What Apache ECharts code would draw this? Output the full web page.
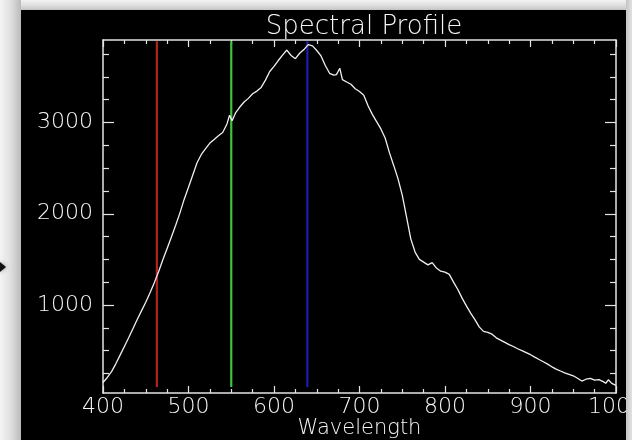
<!DOCTYPE html>
<html><head><meta charset="utf-8">
<script src="https://cdn.jsdelivr.net/npm/echarts@6/dist/echarts.min.js"></script>
<style>html,body{margin:0;padding:0;background:#d4d4d4;} #c{width:632px;height:440px;}</style>
</head><body><div id="c"></div>
<script>
// ---- data ----
const wavelengths = [400,405,410,415,420,425,430,435,440,445,450,455,460,465,470,475,480,485,490,495,
  500,505,510,515,520,525,530,535,540,545,548,551,555,560,565,570,575,580,585,590,595,
  600,605,610,615,620,625,630,635,640,645,650,655,660,665,670,673,677,680,685,690,695,
  700,705,710,715,720,725,730,735,740,745,750,755,760,765,770,775,780,785,790,795,
  800,805,810,815,820,825,830,835,840,845,850,855,860,865,870,875,880,885,890,895,
  900,905,910,915,920,925,930,935,940,945,950,955,960,965,970,975,980,985,988,991,995,1000];
const intensity = [150,205,270,355,450,545,640,740,840,935,1030,1135,1245,1365,1495,1620,1745,1875,2010,2160,
  2290,2425,2560,2650,2715,2775,2815,2855,2890,2985,3080,3020,3105,3170,3225,3265,3315,3345,3385,3465,3560,
  3615,3680,3740,3795,3735,3700,3760,3800,3855,3840,3790,3730,3625,3540,3520,3525,3595,3470,3445,3420,3370,
  3340,3300,3185,3090,3010,2930,2830,2670,2530,2385,2205,1965,1725,1580,1500,1470,1440,1465,1405,1370,
  1360,1335,1250,1170,1075,990,910,840,760,710,700,680,640,615,590,565,545,520,500,478,
  455,428,402,378,352,322,296,276,256,240,224,196,166,186,196,176,182,160,142,180,140,118];
const markerWavelengths = [463, 550, 639];
const markerRange = [100, 3890];
const xRange = [400, 1000];
const xInterval = 100;
const yRange = [35, 3905];
const yMajorTicks = [1000, 2000, 3000];
const yMinorTicks = [250, 500, 750, 1250, 1500, 1750, 2250, 2500, 2750, 3250, 3500, 3750];
const titleText = 'Spectral Profile';
const xName = 'Wavelength';

// ---- styles ----
const markerColors = ['#b42222', '#3cc43c', '#1e1eaa'];
const fg = '#e4e4e4';
const txt = '#f6f6f6';
const font = 'DejaVu Sans';
const fw = 200;
const plain = v => String(v);
const axisLine = {show: true, lineStyle: {color: fg, width: 1.5}};

const chart = echarts.init(document.getElementById('c'), null, {renderer: 'canvas'});

const xBase = {
  type: 'value', min: xRange[0], max: xRange[1], interval: xInterval,
  axisLine: axisLine, splitLine: {show: false},
  axisTick: {show: true, inside: true, length: 7, lineStyle: {color: fg, width: 1.2}},
  minorTick: {show: true, splitNumber: 4, length: 4, lineStyle: {color: fg, width: 1.2}}
};
const yBase = {
  type: 'value', min: yRange[0], max: yRange[1],
  axisLine: axisLine, splitLine: {show: false}
};

const series = markerWavelengths.map((w, i) => ({
  type: 'line', silent: true, animation: false, showSymbol: false, z: 2,
  xAxisIndex: 0, yAxisIndex: 0,
  data: [[w, markerRange[0]], [w, markerRange[1]]],
  lineStyle: {color: markerColors[i], width: 2.2}
}));
series.push({
  type: 'line', silent: true, animation: false, showSymbol: false, z: 5,
  xAxisIndex: 0, yAxisIndex: 0,
  data: wavelengths.map((w, i) => [w, intensity[i]]),
  lineStyle: {color: '#f0f0f0', width: 1.3}
});

chart.setOption({
  backgroundColor: '#000',
  animation: false,
  title: {
    text: titleText, left: 359, top: 9, textAlign: 'center',
    textStyle: {color: txt, fontFamily: font, fontSize: 26, fontWeight: fw}
  },
  grid: {left: 103, right: 16, top: 40, bottom: 47, containLabel: false, outerBoundsMode: 'none'},
  xAxis: [
    Object.assign({}, xBase, {
      position: 'bottom',
      axisLabel: {color: txt, fontFamily: font, fontSize: 22, fontWeight: fw, margin: 3, formatter: plain, hideOverlap: false},
      name: xName, nameLocation: 'middle', nameGap: 25, nameMoveOverlap: false,
      nameTextStyle: {color: txt, fontFamily: font, fontSize: 21, fontWeight: fw, verticalAlign: 'top'}
    }),
    Object.assign({}, xBase, {position: 'top', axisLabel: {show: false}})
  ],
  yAxis: [
    Object.assign({}, yBase, {
      position: 'left',
      axisTick: {show: true, inside: true, length: 11, customValues: yMajorTicks, lineStyle: {color: fg, width: 1.2}},
      axisLabel: {show: true, customValues: yMajorTicks, color: txt, fontFamily: font, fontSize: 22, fontWeight: fw, margin: 10, formatter: plain}
    }),
    Object.assign({}, yBase, {
      position: 'left', axisLine: {show: false},
      axisTick: {show: true, inside: true, length: 6, customValues: yMinorTicks, lineStyle: {color: fg, width: 1.2}},
      axisLabel: {show: false}
    }),
    Object.assign({}, yBase, {
      position: 'right',
      axisTick: {show: true, inside: true, length: 11, customValues: yMajorTicks, lineStyle: {color: fg, width: 1.2}},
      axisLabel: {show: false}
    }),
    Object.assign({}, yBase, {
      position: 'right', axisLine: {show: false},
      axisTick: {show: true, inside: true, length: 6, customValues: yMinorTicks, lineStyle: {color: fg, width: 1.2}},
      axisLabel: {show: false}
    })
  ],
  graphic: [
    {type: 'rect', silent: true, z: 100, shape: {x: 0, y: 0, width: 632, height: 10},
      style: {fill: new echarts.graphic.LinearGradient(0, 0, 0, 1, [
        {offset: 0, color: '#f2f2f2'}, {offset: 0.5, color: '#e0e0e0'}, {offset: 1, color: '#c4c4c4'}])}},
    {type: 'rect', silent: true, z: 100, shape: {x: 0, y: 0, width: 21, height: 440},
      style: {fill: new echarts.graphic.LinearGradient(0, 0, 1, 0, [
        {offset: 0, color: '#f4f4f4'}, {offset: 0.45, color: '#e2e2e2'}, {offset: 0.7, color: '#d2d2d2'}, {offset: 1, color: '#bababa'}])}},
    {type: 'rect', silent: true, z: 100, shape: {x: 626, y: 0, width: 6, height: 440},
      style: {fill: new echarts.graphic.LinearGradient(0, 0, 1, 0, [
        {offset: 0, color: '#c4c4c4'}, {offset: 1, color: '#e2e2e2'}])}},
    {type: 'polygon', silent: true, z: 101, shape: {points: [[0, 262], [6, 267], [0, 272]]},
      style: {fill: '#111', shadowBlur: 4, shadowColor: 'rgba(0,0,0,0.4)'}}
  ],
  series: series
});
</script></body></html>
